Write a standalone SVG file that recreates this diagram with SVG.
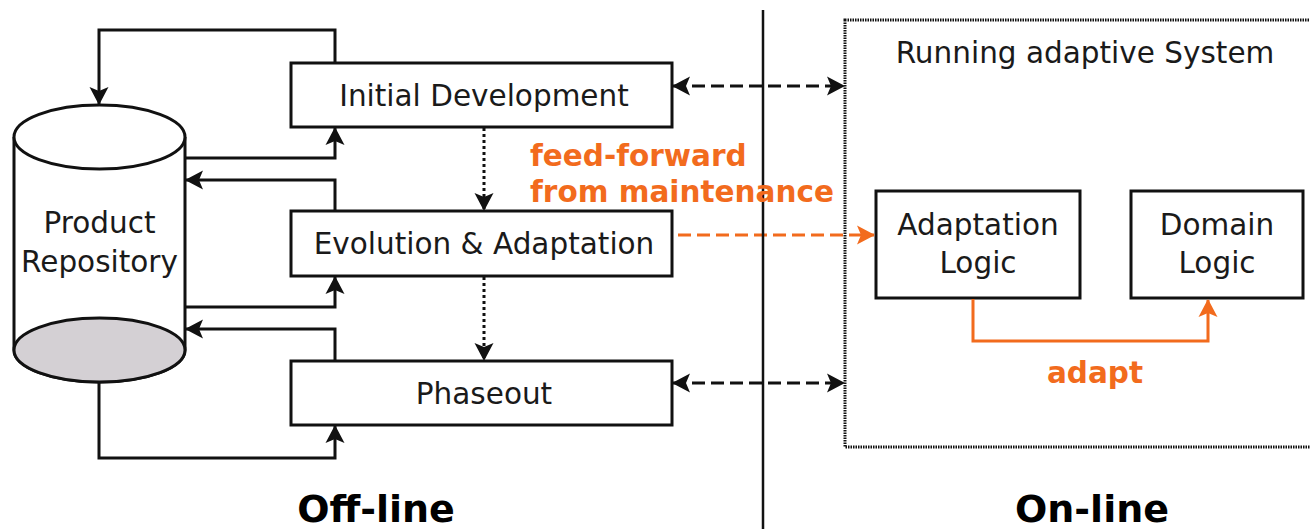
<svg xmlns="http://www.w3.org/2000/svg" width="1310" height="529" viewBox="0 0 1310 529">
<style>
.box{fill:#fff;stroke:#111;stroke-width:3}
.t{font-family:"DejaVu Sans",sans-serif;font-size:29.5px;fill:#1a1a1a;text-anchor:middle}
.ob{font-family:"DejaVu Sans",sans-serif;font-weight:bold;font-size:29.5px;fill:#f26b1d}
.big{font-family:"DejaVu Sans",sans-serif;font-weight:bold;font-size:38px;fill:#000;text-anchor:middle}
.c{fill:none;stroke:#111;stroke-width:3}
.oc{fill:none;stroke:#f26b1d;stroke-width:3}
</style>
<defs>
<marker id="ah" viewBox="-20 -11 22 22" refX="0" refY="0" markerWidth="22" markerHeight="22" markerUnits="userSpaceOnUse" orient="auto-start-reverse">
<path d="M1,0 L-17,-9.5 L-13,0 L-17,9.5 z" fill="#111"/>
</marker>
<marker id="oah" viewBox="-20 -11 22 22" refX="0" refY="0" markerWidth="22" markerHeight="22" markerUnits="userSpaceOnUse" orient="auto-start-reverse">
<path d="M1,0 L-17,-9.5 L-13,0 L-17,9.5 z" fill="#f26b1d"/>
</marker>
</defs>
<rect width="1310" height="529" fill="#fff"/>

<g id="repository">
<path d="M14,137 V350 A85.5,32 0 0 0 185,350 V137" fill="#fff" stroke="#111" stroke-width="3"/>
<ellipse cx="99.5" cy="350" rx="85.5" ry="32" fill="#d4d0d4" stroke="#111" stroke-width="3"/>
<ellipse cx="99.5" cy="137" rx="85.5" ry="32" fill="#fff" stroke="#111" stroke-width="3"/>
<text class="t" x="99.5" y="233">Product</text>
<text class="t" x="99.5" y="272">Repository</text>
</g>

<g id="initial">
<rect class="box" x="291" y="63" width="381" height="64"/>
<text class="t" x="484" y="106">Initial Development</text>
</g>
<g id="evolution">
<rect class="box" x="291" y="211" width="381" height="65"/>
<text class="t" x="484" y="254">Evolution &amp; Adaptation</text>
</g>
<g id="phaseout">
<rect class="box" x="291" y="361" width="381" height="64"/>
<text class="t" x="484" y="404">Phaseout</text>
</g>

<g id="system">
<rect x="845" y="20" width="480" height="427" fill="none" stroke="#111" stroke-width="3" stroke-dasharray="1.5,1"/>
<text class="t" x="1085" y="63">Running adaptive System</text>
</g>
<g id="adaptation">
<rect class="box" x="876" y="191" width="204" height="107"/>
<text class="t" x="978" y="235">Adaptation</text>
<text class="t" x="978" y="273">Logic</text>
</g>
<g id="domain">
<rect class="box" x="1131" y="191" width="172" height="107"/>
<text class="t" x="1217" y="235">Domain</text>
<text class="t" x="1217" y="273">Logic</text>
</g>

<g id="connectors">
<path class="c" d="M335,63 V30 H99 V104" marker-end="url(#ah)"/>
<path class="c" d="M185,158 H335 V128" marker-end="url(#ah)"/>
<path class="c" d="M335,211 V180 H186" marker-end="url(#ah)"/>
<path class="c" d="M185,307 H335 V277" marker-end="url(#ah)"/>
<path class="c" d="M335,361 V329 H186" marker-end="url(#ah)"/>
<path class="c" d="M99,382 V458 H335 V426" marker-end="url(#ah)"/>
<path class="c" d="M484,128 V210" stroke-dasharray="3,3" marker-end="url(#ah)"/>
<path class="c" d="M484,277 V360" stroke-dasharray="3,3" marker-end="url(#ah)"/>
<path class="c" d="M673,86 H844" stroke-dasharray="13,6" marker-start="url(#ah)" marker-end="url(#ah)"/>
<path class="c" d="M673,383 H844" stroke-dasharray="13,6" marker-start="url(#ah)" marker-end="url(#ah)"/>
<path class="oc" d="M678,235 H874" stroke-dasharray="13,6" marker-end="url(#oah)"/>
<path class="oc" d="M973,299 V341 H1208 V300" marker-end="url(#oah)"/>
<line x1="763" y1="10" x2="763" y2="529" stroke="#111" stroke-width="2.5"/>
</g>

<text class="ob" x="530" y="166">feed-forward</text>
<text class="ob" x="530" y="202">from maintenance</text>
<text class="ob" x="1095" y="383" text-anchor="middle">adapt</text>
<text class="big" x="376" y="522">Off-line</text>
<text class="big" x="1092" y="522">On-line</text>
</svg>
